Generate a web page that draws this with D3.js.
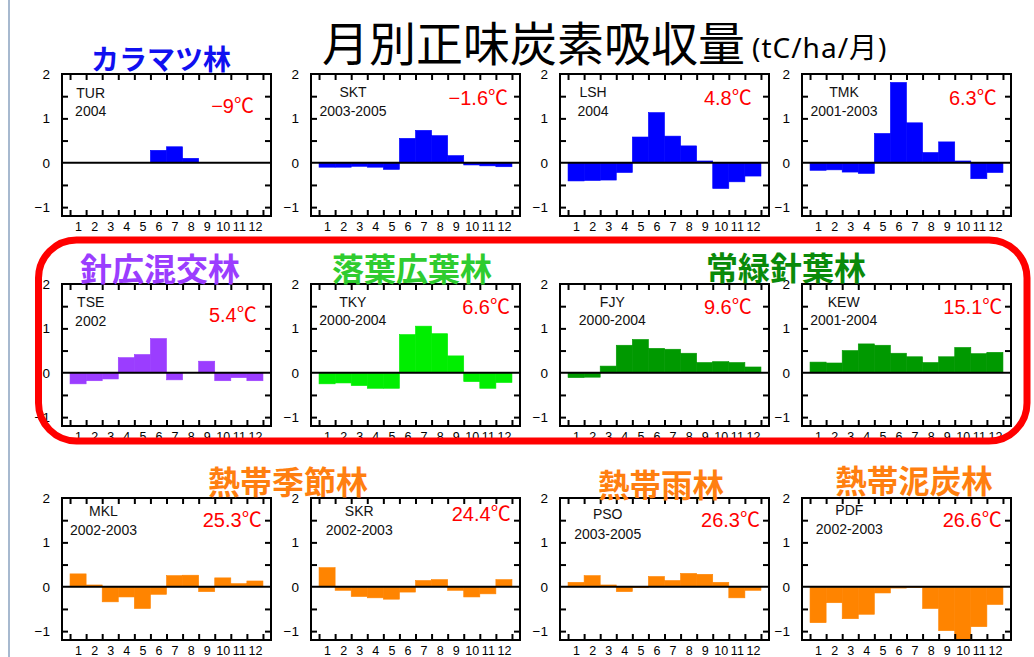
<!DOCTYPE html>
<html>
<head>
<meta charset="utf-8">
<script src="https://cdn.jsdelivr.net/npm/d3@7"></script>
<style>
  html, body { margin: 0; padding: 0; background: #fff; }
  svg { display: block; }
</style>
</head>
<body>
<svg id="chart" width="1034" height="657"></svg>
<script>
// Monthly net carbon uptake (tC/ha/month) at twelve flux sites

const months = [1, 2, 3, 4, 5, 6, 7, 8, 9, 10, 11, 12];
const yTickValues = [-1, 0, 1, 2];
const yMinorValues = [-1, -0.5, 0.5, 1, 1.5];

const siteCodes = ["TUR", "SKT", "LSH", "TMK", "TSE", "TKY", "FJY", "KEW", "MKL", "SKR", "PSO", "PDF"];
const sitePeriods = ["2004", "2003-2005", "2004", "2001-2003", "2002", "2000-2004", "2000-2004", "2001-2004",
                     "2002-2003", "2002-2003", "2003-2005", "2002-2003"];
const siteTemps = ["−9℃", "−1.6℃", "4.8℃", "6.3℃", "5.4℃", "6.6℃", "9.6℃", "15.1℃",
                   "25.3℃", "24.4℃", "26.3℃", "26.6℃"];

// monthly values, Jan..Dec
const tur = [0, 0, 0, 0, 0, 0.28, 0.36, 0.10, 0, 0, 0, 0];
const skt = [-0.10, -0.10, -0.08, -0.10, -0.15, 0.55, 0.73, 0.61, 0.16, -0.05, -0.07, -0.09];
const lsh = [-0.41, -0.40, -0.39, -0.22, 0.58, 1.13, 0.60, 0.38, 0.04, -0.58, -0.43, -0.30];
const tmk = [-0.17, -0.16, -0.21, -0.24, 0.66, 1.81, 0.90, 0.23, 0.47, 0.04, -0.36, -0.22];
const tse = [-0.25, -0.18, -0.14, 0.34, 0.41, 0.77, -0.16, 0, 0.26, -0.18, -0.11, -0.18];
const tky = [-0.25, -0.23, -0.29, -0.35, -0.35, 0.86, 1.05, 0.88, 0.38, -0.20, -0.35, -0.22];
const fjy = [-0.11, -0.10, 0.15, 0.62, 0.75, 0.55, 0.53, 0.44, 0.23, 0.25, 0.23, 0.13];
const kew = [0.24, 0.22, 0.50, 0.65, 0.62, 0.44, 0.36, 0.23, 0.36, 0.57, 0.43, 0.46];
const mkl = [0.29, 0.04, -0.34, -0.23, -0.49, -0.17, 0.25, 0.26, -0.11, 0.20, 0.07, 0.13];
const skr = [0.43, -0.08, -0.22, -0.25, -0.28, -0.12, 0.14, 0.16, -0.08, -0.23, -0.16, 0.16];
const pso = [0.10, 0.25, 0.04, -0.11, -0.02, 0.23, 0.14, 0.30, 0.28, 0.10, -0.25, -0.08];
const pdf = [-0.81, -0.36, -0.72, -0.62, -0.14, -0.03, -0.02, -0.49, -0.99, -1.18, -0.90, -0.40];
const siteValues = [tur, skt, lsh, tmk, tse, tky, fjy, kew, mkl, skr, pso, pdf];

const forestTypes = ["カラマツ林", "針広混交林", "落葉広葉林", "常緑針葉林", "熱帯季節林", "熱帯雨林", "熱帯泥炭林"];
// forest type of each site (index into forestTypes)
const siteForest = [0, 0, 0, 0, 1, 2, 3, 3, 4, 4, 5, 6];

// ---- styling and layout ----
const forestColors = ["#0000ff", "#9b3dff", "#00ee00", "#009900", "#ff8400", "#ff8400", "#ff8400"];
const labelColors  = ["#1010f0", "#9b3dff", "#2fcc2f", "#0a8a0a", "#ff7f10", "#ff7f10", "#ff7f10"];
const forestLabelPos = [[161, 58, 28], [160, 267, 32], [412, 267, 32], [786, 266, 32],
                        [288, 480, 32], [661, 483, 31.5], [914, 479, 31.5]];

const PW = 209, PH = 142;
const colLeft = [62, 311, 560, 802];
const rowTop = [74, 284, 498];
// per panel: [code/period centre x, code baseline, period baseline, temp right inset, temp baseline]
const textPos = [
  [28.7, 23.7, 42, 17, 39.3], [42, 23.3, 42, 12, 31], [33, 23.3, 42, 17.3, 31], [42, 23, 42, 14.3, 31],
  [28.7, 22.7, 41.5, 14.3, 37.7], [41.8, 22.7, 41, 10, 30], [52.3, 22.7, 41, 17.3, 30], [41.7, 22.7, 41, 8.7, 30],
  [41.5, 17.7, 37, 9.3, 29.3], [48.2, 17.7, 37, 9.3, 22.7], [47.7, 21.3, 41, 9, 29.3], [47.3, 17, 36.3, 9.3, 29.3]
];

const LATIN = "'Liberation Sans', Arial, 'Noto Sans CJK JP', sans-serif";
const CJK = "'Noto Sans CJK JP', sans-serif";

const svg = d3.select("#chart");
svg.append("rect").attr("width", 1034).attr("height", 657).attr("fill", "#fff");

// slide border on the left edge
svg.append("line").attr("x1", 9).attr("x2", 9).attr("y1", 0).attr("y2", 657)
  .attr("stroke", "#a7b9cf").attr("stroke-width", 2);

// title
svg.append("text").attr("x", 322).attr("y", 61)
  .attr("font-family", CJK).attr("font-size", 47).attr("fill", "#000")
  .text("月別正味炭素吸収量");
svg.append("text").attr("x", 752).attr("y", 58)
  .attr("font-family", "'Noto Sans', " + CJK).attr("font-size", 28).attr("letter-spacing", 1)
  .attr("fill", "#000")
  .text("(tC/ha/月)");

const x = d3.scaleLinear().domain([0, 13]).range([0, PW]);
const y = d3.scaleLinear().domain([-1.2, 2]).range([PH, 0]);
const bounds = months.map(m => m - 0.5).concat([months[months.length - 1] + 0.5]);

function styleAxis(g, size) {
  g.select(".domain").remove();
  g.selectAll("line").attr("stroke", "#000").attr("stroke-width", 2);
  g.selectAll("text").attr("font-family", LATIN).attr("font-size", size).attr("fill", "#000");
}

siteValues.forEach((vals, i) => {
  const L = colLeft[i % 4], T = rowTop[Math.floor(i / 4)];
  const g = svg.append("g").attr("transform", `translate(${L},${T})`);
  const color = forestColors[siteForest[i]];

  // bars
  g.selectAll("rect.bar").data(vals).join("rect")
    .attr("class", "bar")
    .attr("x", (d, k) => x(months[k] - 0.5))
    .attr("width", (d, k) => x(months[k] + 0.5) - x(months[k] - 0.5))
    .attr("y", d => y(Math.max(0, d)))
    .attr("height", d => Math.abs(y(d) - y(0)))
    .attr("fill", color)
    .attr("stroke", color).attr("stroke-width", 0.6);

  // tick marks on all four sides
  g.append("g").attr("transform", `translate(0,${PH})`)
    .call(d3.axisBottom(x).tickValues(bounds).tickSize(-6).tickFormat(""))
    .call(a => styleAxis(a, 12));
  g.append("g")
    .call(d3.axisTop(x).tickValues(bounds).tickSize(-6).tickFormat(""))
    .call(a => styleAxis(a, 12));
  g.append("g")
    .call(d3.axisLeft(y).tickValues(yMinorValues).tickSize(-6).tickFormat(""))
    .call(a => styleAxis(a, 12));
  g.append("g").attr("transform", `translate(${PW},0)`)
    .call(d3.axisRight(y).tickValues(yMinorValues).tickSize(-6).tickFormat(""))
    .call(a => styleAxis(a, 12));

  // tick labels
  g.append("g").attr("transform", `translate(0,${PH})`)
    .call(d3.axisBottom(x).tickValues(months).tickSize(0).tickPadding(6).tickFormat(d3.format("d")))
    .call(a => styleAxis(a, 12.5));
  g.append("g")
    .call(d3.axisLeft(y).tickValues(yTickValues).tickSize(0).tickPadding(12).tickFormat(d3.format("d")))
    .call(a => styleAxis(a, 13.5));

  // zero line and frame
  g.append("line").attr("x1", 0).attr("x2", PW).attr("y1", y(0)).attr("y2", y(0))
    .attr("stroke", "#000").attr("stroke-width", 2.2);
  g.append("rect").attr("width", PW).attr("height", PH)
    .attr("fill", "none").attr("stroke", "#000").attr("stroke-width", 2);

  // site code, period and mean temperature
  const p = textPos[i];
  g.append("text").attr("x", p[0]).attr("y", p[1]).attr("text-anchor", "middle")
    .attr("font-family", LATIN).attr("font-size", 14).attr("fill", "#111").text(siteCodes[i]);
  g.append("text").attr("x", p[0]).attr("y", p[2]).attr("text-anchor", "middle")
    .attr("font-family", LATIN).attr("font-size", 14).attr("fill", "#111").text(sitePeriods[i]);
  g.append("text").attr("x", PW - p[3]).attr("y", p[4]).attr("text-anchor", "end")
    .attr("font-family", LATIN).attr("font-size", 20).attr("fill", "#ff0000").text(siteTemps[i]);
});

// forest-type headings
forestTypes.forEach((name, k) => {
  const [cx, cy, fs] = forestLabelPos[k];
  svg.append("text").attr("x", cx).attr("y", cy).attr("text-anchor", "middle")
    .attr("dominant-baseline", "central")
    .attr("font-family", CJK).attr("font-weight", 700).attr("font-size", fs)
    .attr("fill", labelColors[k]).text(name);
});

// highlight around the middle row
svg.append("rect").attr("x", 38.5).attr("y", 240).attr("width", 988.5).attr("height", 201)
  .attr("rx", 38).attr("ry", 38)
  .attr("fill", "none").attr("stroke", "#ff0000").attr("stroke-width", 7);
</script>
</body>
</html>
